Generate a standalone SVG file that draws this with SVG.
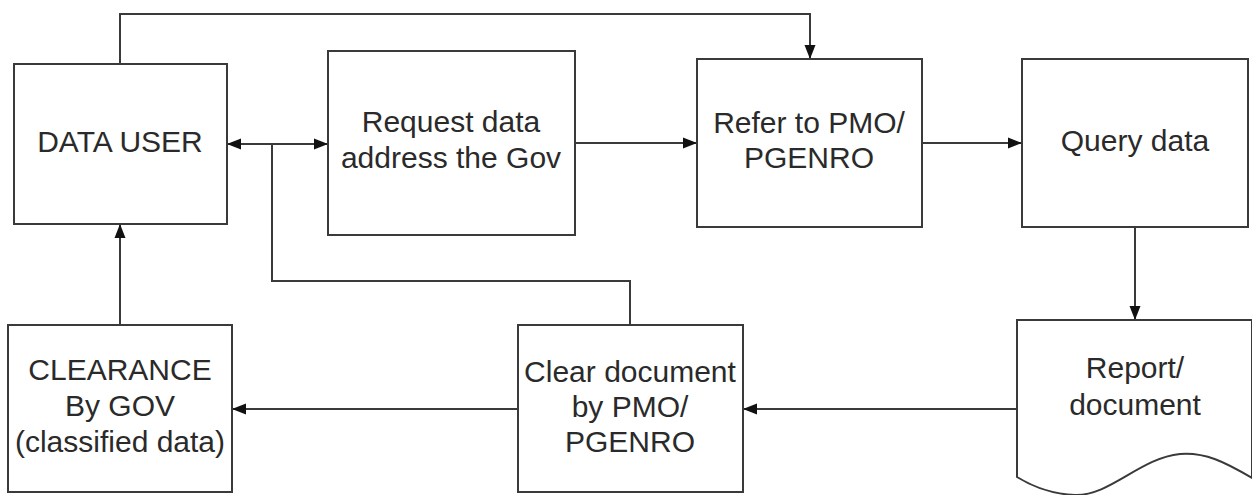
<svg xmlns="http://www.w3.org/2000/svg" width="1252" height="495" viewBox="0 0 1252 495">
  <style>
    .box { fill: #ffffff; stroke: #3a3a3a; stroke-width: 2; }
    .lbl { font-family: "Liberation Sans", Arial, sans-serif; font-size: 30px; fill: #2a2a2a; text-anchor: middle; }
    .conn { fill: none; stroke: #3a3a3a; stroke-width: 2; }
  </style>
  <defs>
    <marker id="arrow" markerUnits="userSpaceOnUse" markerWidth="14" markerHeight="14" viewBox="0 0 14 14" refX="14" refY="7" orient="auto-start-reverse">
      <path d="M0,1.5 L14,7 L0,12.5 Z" fill="#111111"/>
    </marker>
  </defs>
  <rect width="1252" height="495" fill="#ffffff"/>

  <g id="connectors">
    <path class="conn" d="M120,64 V14 H810 V59" marker-end="url(#arrow)"/>
    <path class="conn" d="M227,144 H328" marker-start="url(#arrow)" marker-end="url(#arrow)"/>
    <path class="conn" d="M272,144 V281 H630 V325"/>
    <path class="conn" d="M575,143 H697" marker-end="url(#arrow)"/>
    <path class="conn" d="M922,143 H1022" marker-end="url(#arrow)"/>
    <path class="conn" d="M1135,227 V320" marker-end="url(#arrow)"/>
    <path class="conn" d="M1017,409 H743" marker-end="url(#arrow)"/>
    <path class="conn" d="M518,409 H232" marker-end="url(#arrow)"/>
    <path class="conn" d="M120,325 V224" marker-end="url(#arrow)"/>
  </g>

  <g id="data-user">
    <rect class="box" x="14" y="64" width="213" height="160"/>
    <text class="lbl" x="120" y="152">DATA USER</text>
  </g>

  <g id="request-data">
    <rect class="box" x="328" y="51" width="247" height="184"/>
    <text class="lbl" x="451" y="132">Request data</text>
    <text class="lbl" x="451" y="168">address the Gov</text>
  </g>

  <g id="refer-pmo">
    <rect class="box" x="697" y="59" width="225" height="168"/>
    <text class="lbl" x="809" y="133">Refer to PMO/</text>
    <text class="lbl" x="809" y="168">PGENRO</text>
  </g>

  <g id="query-data">
    <rect class="box" x="1022" y="59" width="226" height="168"/>
    <text class="lbl" x="1135" y="151">Query data</text>
  </g>

  <g id="report-document">
    <path class="box" d="M1017,477 V320 H1252 V478 C1225,462 1205,452 1180,454 C1140,458 1110,496 1075,495 C1050,494 1030,485 1017,477 Z"/>
    <text class="lbl" x="1135" y="378">Report/</text>
    <text class="lbl" x="1135" y="415">document</text>
  </g>

  <g id="clear-document">
    <rect class="box" x="518" y="325" width="225" height="167"/>
    <text class="lbl" x="630" y="382">Clear document</text>
    <text class="lbl" x="630" y="417">by PMO/</text>
    <text class="lbl" x="630" y="452">PGENRO</text>
  </g>

  <g id="clearance">
    <rect class="box" x="8" y="325" width="224" height="167"/>
    <text class="lbl" x="120" y="380">CLEARANCE</text>
    <text class="lbl" x="120" y="416">By GOV</text>
    <text class="lbl" x="120" y="452">(classified data)</text>
  </g>
</svg>
